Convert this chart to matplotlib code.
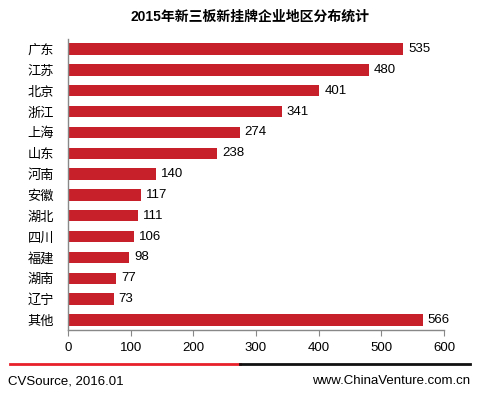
import matplotlib
matplotlib.use("Agg")
import matplotlib.pyplot as plt
from matplotlib.lines import Line2D

plt.rcParams['font.family'] = ['Liberation Sans', 'Noto Sans CJK SC']

regions = ['广东', '江苏', '北京', '浙江', '上海', '山东', '河南', '安徽', '湖北', '四川', '福建', '湖南', '辽宁', '其他']
values = [535, 480, 401, 341, 274, 238, 140, 117, 111, 106, 98, 77, 73, 566]
xticks = [0, 100, 200, 300, 400, 500, 600]

fig = plt.figure(figsize=(4.79, 3.95), dpi=100)
ax = fig.add_axes([68/479, 1-330.4/395, (444-68)/479, (330.4-38.6)/395])

ypos = list(range(len(regions)))
ax.barh(ypos, values, height=0.55, color='#C8202A')
ax.set_ylim(len(regions)-0.5, -0.5)
ax.set_xlim(0, 600)
ax.set_yticks(ypos)
ax.set_yticklabels(regions, fontsize=9.5, family=['Noto Sans CJK SC'])
ax.set_xticks(xticks)
ax.set_xticklabels([str(t) for t in xticks], fontsize=9.5)
ax.tick_params(axis='y', length=0, pad=10)
ax.tick_params(axis='x', length=4, color='#888888', pad=4)
for s in ['top', 'right']:
    ax.spines[s].set_visible(False)
for s in ['left', 'bottom']:
    ax.spines[s].set_color('#888888')
    ax.spines[s].set_linewidth(1)

for y, v in zip(ypos, values):
    ax.text(v + 8, y, str(v), va='center', ha='left', fontsize=9.5)

fig.text(250/479, 1-17/395, '2015年新三板新挂牌企业地区分布统计', ha='center', va='center',
         fontsize=10, fontweight='bold', family=['Liberation Sans', 'Noto Sans CJK SC'])

fig.add_artist(Line2D([10/479, 240/479], [1-364/395]*2, color='#E8202A', lw=2, transform=fig.transFigure))
fig.add_artist(Line2D([240/479, 470/479], [1-364/395]*2, color='#111111', lw=2, transform=fig.transFigure))
fig.text(8/479, 1-381/395, 'CVSource, 2016.01', ha='left', va='center', fontsize=9.5)
fig.text(470/479, 1-381/395, 'www.ChinaVenture.com.cn', ha='right', va='center', fontsize=9.5)

fig.savefig('out.png', dpi=100)
